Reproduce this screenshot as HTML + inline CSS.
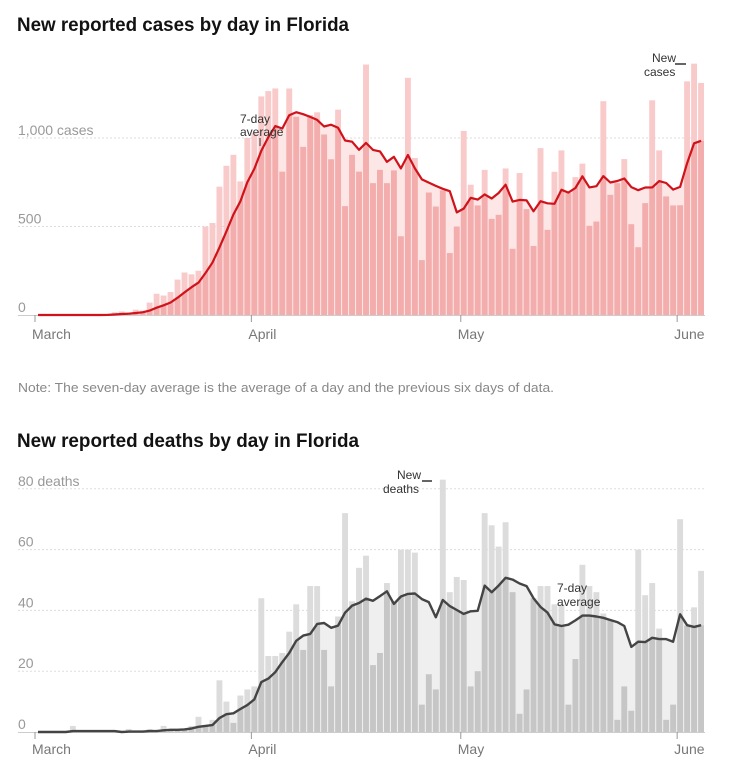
<!DOCTYPE html>
<html><head><meta charset="utf-8"><style>
html,body{margin:0;padding:0;background:#fff;}
svg{display:block;font-family:"Liberation Sans",Arial,sans-serif;}
</style></head><body>
<svg id="s" width="731" height="768" viewBox="0 0 731 768" xmlns="http://www.w3.org/2000/svg">
<text x="17" y="31" font-size="19" font-weight="bold" fill="#121212" textLength="332" lengthAdjust="spacingAndGlyphs">New reported cases by day in Florida</text>
<g id="gtop"></g>
<text x="18" y="392" font-size="13" fill="#888" textLength="536" lengthAdjust="spacingAndGlyphs">Note: The seven-day average is the average of a day and the previous six days of data.</text>
<text x="17" y="447" font-size="19" font-weight="bold" fill="#121212" textLength="342" lengthAdjust="spacingAndGlyphs">New reported deaths by day in Florida</text>
<g id="gbot"></g>
</svg>
<script>
(function(){
var NS="http://www.w3.org/2000/svg";
function el(p,t,a,txt){var e=document.createElementNS(NS,t);for(var k in a)e.setAttribute(k,a[k]);if(txt!=null)e.textContent=txt;p.appendChild(e);return e;}
var cases=[0,0,0,0,0,0,0,0,0,0,5,15,20,10,30,25,70,120,110,130,200,240,230,250,500,520,725,843,905,755,1000,
1030,1235,1265,1280,810,1280,1120,950,1130,1145,1020,880,1160,615,905,810,1415,745,820,745,817,445,1340,887,310,692,613,704,350,500,
1040,736,619,820,543,566,828,374,802,598,390,943,481,809,930,689,779,855,504,528,1208,679,745,881,513,383,632,1213,930,670,619,
620,1320,1420,1311];
var deaths=[0,0,0,0,0,2,0,0,0,0,0,0,0,1,0,0,1,0,2,1,1,1,2,5,2,4,17,10,3,12,14,
15,44,25,25,26,33,42,27,48,48,27,15,38,72,43,54,58,22,26,49,43,60,60,59,9,19,14,83,46,51,
50,15,20,72,68,61,69,46,6,14,44,48,48,42,42,9,24,55,48,46,39,37,4,15,7,60,45,49,34,4,9,
70,35,41,53];
function avg(a){var r=[];for(var i=0;i<a.length;i++){var s=0;for(var j=Math.max(0,i-6);j<=i;j++){s+=a[j];}r.push(s/7);}return r;}
function chart(g,id,data,y0,scale,grid,labels,cLight,cMid,cPale,cLine,lw,monthY){
  var av=avg(data);
  var x0=35,dx=6.98,bw=5.9;
  grid.forEach(function(v,i){var y=y0-v*scale;
    if(v>0)el(g,'line',{x1:18,x2:705,y1:y,y2:y,stroke:'#ddd','stroke-dasharray':'2,2','stroke-width':1});
    el(g,'text',{x:18,y:y-3,'font-size':14,fill:'#999'},labels[i]);
  });
  var bars=el(g,'g',{});
  data.forEach(function(v,i){el(bars,'rect',{x:x0+dx*i,y:y0-v*scale,width:bw,height:v*scale,fill:cLight});});
  var pts=[];av.forEach(function(v,i){pts.push((x0+dx*i+bw/2).toFixed(1)+','+(y0-v*scale).toFixed(1));});
  var xe=(x0+dx*(data.length-1)+bw).toFixed(1);
  var poly=x0+','+y0+' '+pts.join(' ')+' '+xe+','+(y0-av[av.length-1]*scale).toFixed(1)+' '+xe+','+y0;
  el(g,'polygon',{points:poly,fill:cPale});
  var cp=el(g,'clipPath',{id:id});el(cp,'polygon',{points:poly});
  var mb=el(g,'g',{'clip-path':'url(#'+id+')'});
  data.forEach(function(v,i){el(mb,'rect',{x:x0+dx*i,y:y0-v*scale,width:bw,height:v*scale,fill:cMid});});
  el(g,'line',{x1:18,x2:705,y1:y0+0.5,y2:y0+0.5,stroke:'#ccc','stroke-width':1});
  el(g,'polyline',{points:pts.join(' '),fill:'none',stroke:cLine,'stroke-width':lw,'stroke-linejoin':'round'});
  [[0,'March'],[31,'April'],[61,'May'],[92,'June']].forEach(function(m){var x=x0+dx*m[0];
    el(g,'line',{x1:x,x2:x,y1:y0,y2:y0+7,stroke:'#999','stroke-width':1});
    el(g,'text',{x:x-3,y:monthY,'font-size':14,fill:'#777'},m[1]);});
}
var gTop=document.getElementById('gtop'),gBot=document.getElementById('gbot');
chart(gTop,'c1',cases,315,0.177,[1000,500,0],['1,000 cases','500','0'],'#f9caca','#f3adac','#fce6e6','#d0121b',2.2,339);
chart(gBot,'c2',deaths,732,3.04,[80,60,40,20,0],['80 deaths','60','40','20','0'],'#dcdcdc','#c6c6c6','#efefef','#444',2.4,754);
el(gTop,'text',{x:240,y:123,'font-size':12,fill:'#333'},'7-day');
el(gTop,'text',{x:240,y:136,'font-size':12,fill:'#333'},'average');
el(gTop,'line',{x1:260,x2:260,y1:138,y2:146,stroke:'#333','stroke-width':1});
el(gTop,'text',{x:652,y:62,'font-size':12,fill:'#333'},'New');
el(gTop,'text',{x:644,y:76,'font-size':12,fill:'#333'},'cases');
el(gTop,'line',{x1:675,x2:686,y1:64,y2:64,stroke:'#333','stroke-width':1.5});
el(gBot,'text',{x:397,y:479,'font-size':12,fill:'#333'},'New');
el(gBot,'text',{x:383,y:493,'font-size':12,fill:'#333'},'deaths');
el(gBot,'line',{x1:422,x2:432,y1:481,y2:481,stroke:'#333','stroke-width':1.5});
el(gBot,'text',{x:557,y:592,'font-size':12,fill:'#333'},'7-day');
el(gBot,'text',{x:557,y:606,'font-size':12,fill:'#333'},'average');
})();
</script>
</body></html>
